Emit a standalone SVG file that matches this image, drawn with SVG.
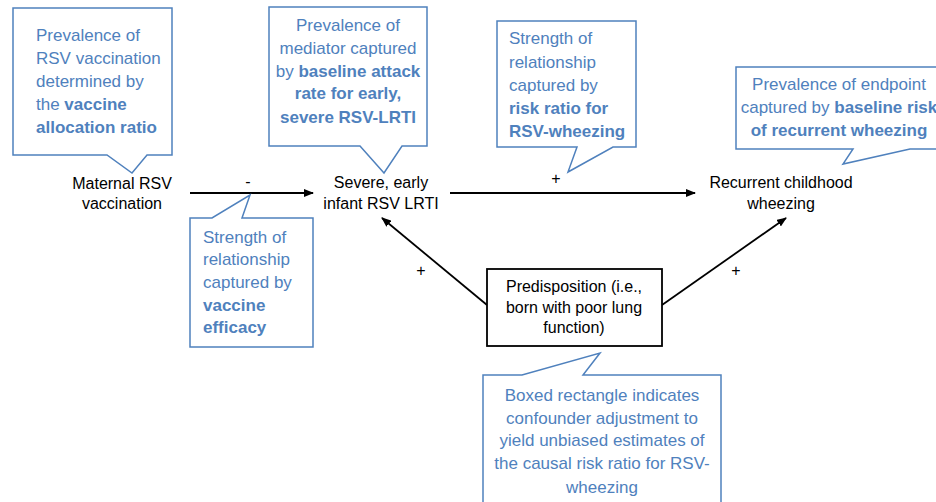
<svg xmlns="http://www.w3.org/2000/svg" width="936" height="502" viewBox="0 0 936 502">
<style>
.co{fill:#fff;stroke:#4f81bd;stroke-width:1.5;stroke-linejoin:miter}
.bt{font-family:"Liberation Sans",Arial,sans-serif;font-size:17px;fill:#4f81bd}
.bt .b{font-weight:bold}
.nt{font-family:"Liberation Sans",Arial,sans-serif;font-size:16px;fill:#000}
.c{text-anchor:middle}
.edge{stroke:#000;stroke-width:1.8;fill:none;marker-end:url(#ah)}
.box{fill:#fff;stroke:#000;stroke-width:1.8}
</style>
<defs>
<marker id="ah" markerWidth="10" markerHeight="8" refX="9" refY="4" orient="auto" markerUnits="userSpaceOnUse">
<path d="M0,0 L10,4 L0,8 Z" fill="#000"/>
</marker>
</defs>
<rect width="936" height="502" fill="#fff"/>

<g id="connectors">
<line class="edge" x1="190" y1="193" x2="313" y2="193"/>
<line class="edge" x1="450" y1="193" x2="695" y2="193"/>
<line class="edge" x1="487" y1="305" x2="382" y2="218"/>
<line class="edge" x1="662" y1="305" x2="786" y2="218"/>
<text class="nt c" x="248" y="187">-</text>
<text class="nt c" x="556" y="184">+</text>
<text class="nt c" x="421" y="276">+</text>
<text class="nt c" x="736" y="276">+</text>
</g>

<g id="callout-allocation">
<path class="co" d="M13,8 H172 V155 H147 L132,173 L107,155 H13 Z"/>
<text class="bt" x="36" y="41">Prevalence of</text>
<text class="bt" x="36" y="64">RSV vaccination</text>
<text class="bt" x="36" y="87">determined by</text>
<text class="bt" x="36" y="110">the <tspan class="b">vaccine</tspan></text>
<text class="bt" x="36" y="133"><tspan class="b">allocation ratio</tspan></text>
</g>

<g id="callout-attack">
<path class="co" d="M269,7 H427 V146 H402 L384,173 L360,146 H269 Z"/>
<text class="bt c" x="348" y="31">Prevalence of</text>
<text class="bt c" x="348" y="54">mediator captured</text>
<text class="bt c" x="348" y="77">by <tspan class="b">baseline attack</tspan></text>
<text class="bt c" x="348" y="99"><tspan class="b">rate for early,</tspan></text>
<text class="bt c" x="348" y="123"><tspan class="b">severe RSV-LRTI</tspan></text>
</g>

<g id="callout-riskratio">
<path class="co" d="M497,21 H636 V147 H613 L568,172 L577,147 H497 Z"/>
<text class="bt" x="509" y="44">Strength of</text>
<text class="bt" x="509" y="68">relationship</text>
<text class="bt" x="509" y="91">captured by</text>
<text class="bt" x="509" y="114"><tspan class="b">risk ratio for</tspan></text>
<text class="bt" x="509" y="137"><tspan class="b">RSV-wheezing</tspan></text>
</g>

<g id="callout-endpoint">
<path class="co" d="M736,67 H942 V149 H910 L843,164 L853,149 H736 Z"/>
<text class="bt c" x="839" y="90">Prevalence of endpoint</text>
<text class="bt c" x="839" y="113">captured by <tspan class="b">baseline risk</tspan></text>
<text class="bt c" x="839" y="136"><tspan class="b">of recurrent wheezing</tspan></text>
</g>

<g id="callout-efficacy">
<path class="co" d="M190,218 H212 L250,195 L242,218 H313 V347 H190 Z"/>
<text class="bt" x="203" y="243">Strength of</text>
<text class="bt" x="203" y="265">relationship</text>
<text class="bt" x="203" y="288">captured by</text>
<text class="bt" x="203" y="311"><tspan class="b">vaccine</tspan></text>
<text class="bt" x="203" y="333"><tspan class="b">efficacy</tspan></text>
</g>

<g id="callout-confounder">
<path class="co" d="M483,375 H522 L600,353 L583,375 H721 V510 H483 Z"/>
<text class="bt c" x="602" y="401">Boxed rectangle indicates</text>
<text class="bt c" x="602" y="424">confounder adjustment to</text>
<text class="bt c" x="602" y="446">yield unbiased estimates of</text>
<text class="bt c" x="602" y="469">the causal risk ratio for RSV-</text>
<text class="bt c" x="602" y="493">wheezing</text>
</g>

<g id="node-vaccination">
<text class="nt c" x="122" y="189">Maternal RSV</text>
<text class="nt c" x="122" y="209">vaccination</text>
</g>

<g id="node-lrti">
<text class="nt c" x="381" y="188">Severe, early</text>
<text class="nt c" x="381" y="209">infant RSV LRTI</text>
</g>

<g id="node-wheezing">
<text class="nt c" x="781" y="188">Recurrent childhood</text>
<text class="nt c" x="781" y="209">wheezing</text>
</g>

<g id="node-predisposition">
<rect class="box" x="487" y="269" width="175" height="77"/>
<text class="nt c" x="574" y="292">Predisposition (i.e.,</text>
<text class="nt c" x="574" y="313">born with poor lung</text>
<text class="nt c" x="574" y="333">function)</text>
</g>
</svg>
